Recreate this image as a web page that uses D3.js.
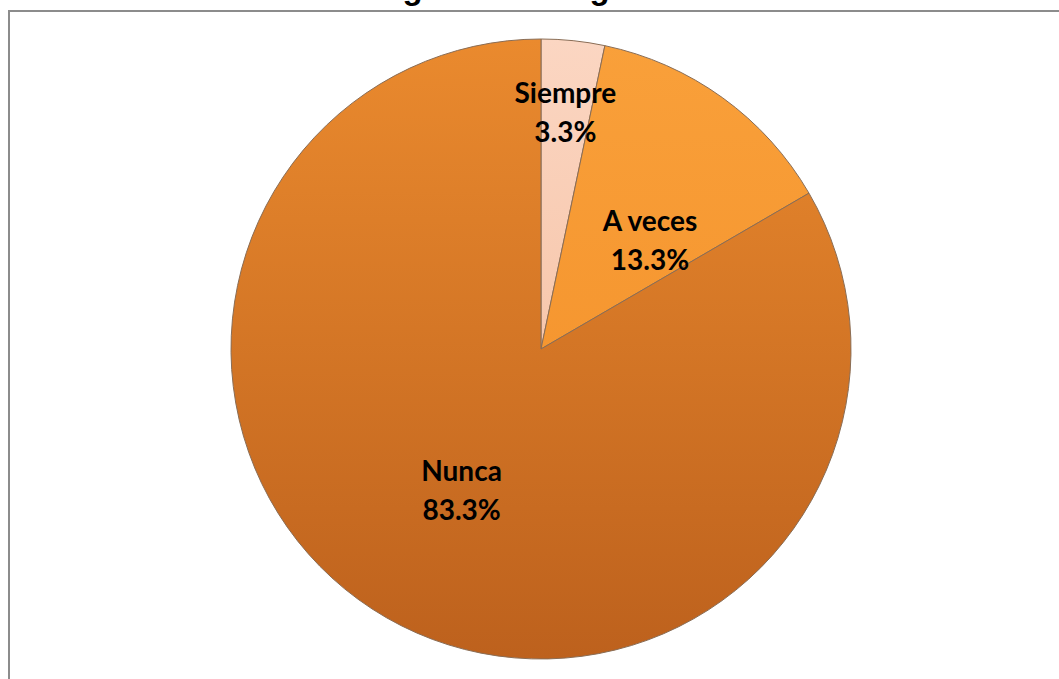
<!DOCTYPE html>
<html>
<head>
<meta charset="utf-8">
<script src="https://cdn.jsdelivr.net/npm/d3@7"></script>
<style>
  body { margin: 0; background: #fff; }
  svg { display: block; }
</style>
</head>
<body>
<svg id="chart"></svg>
<script>
// Pie data
const categories = ["Siempre", "A veces", "Nunca"];
const percents = [3.3, 13.3, 83.3];

const svgWidth = 1059;
const svgHeight = 679;
const cx = 541, cy = 349, radius = 310;

const svg = d3.select("#chart")
    .attr("width", svgWidth)
    .attr("height", svgHeight);

// Title, cut off at the top like the picture
svg.append("text")
    .attr("x", 540)
    .attr("y", -1.5)
    .attr("text-anchor", "middle")
    .style("font-family", "Liberation Sans, Arial, sans-serif")
    .style("font-weight", "bold")
    .style("font-size", "33px")
    .text("Figura 11. Pregunta 8");

// Chart frame
svg.append("rect")
    .attr("x", 9)
    .attr("y", 11)
    .attr("width", 1070)
    .attr("height", 700)
    .attr("fill", "none")
    .attr("stroke", "#8c8c8c")
    .attr("stroke-width", 2);

// Gradients for the slices
const defs = svg.append("defs");
const gradStops = [
    ["#fbd6c2", "#f3b896"],
    ["#f9a03a", "#f28d26"],
    ["#ea8a2e", "#bd611d"]
];
gradStops.forEach((g, i) => {
    const grad = defs.append("linearGradient")
        .attr("id", "grad" + i)
        .attr("gradientUnits", "userSpaceOnUse")
        .attr("x1", 0).attr("y1", -radius)
        .attr("x2", 0).attr("y2", radius);
    grad.append("stop").attr("offset", "0%").attr("stop-color", g[0]);
    grad.append("stop").attr("offset", "100%").attr("stop-color", g[1]);
});

const pie = d3.pie()
    .value(d => d)
    .sort(null);

const arc = d3.arc()
    .innerRadius(0)
    .outerRadius(radius);

const arcs = pie(percents);

const g = svg.append("g")
    .attr("transform", `translate(${cx},${cy})`);

g.selectAll("path")
    .data(arcs)
    .enter()
    .append("path")
    .attr("d", arc)
    .attr("fill", (d, i) => `url(#grad${i})`)
    .attr("stroke", "#8a6d55")
    .attr("stroke-width", 1);

// Label placement (radius as share of pie radius, small angle shift in degrees)
const labelRadius = [0.76, 0.49, 0.53];
const labelAngleShift = [0, 10, -1];

const labels = g.selectAll("g.label")
    .data(arcs)
    .enter()
    .append("g")
    .attr("class", "label")
    .attr("transform", (d, i) => {
        const a = (d.startAngle + d.endAngle) / 2 + labelAngleShift[i] * Math.PI / 180;
        const r = radius * labelRadius[i];
        return `translate(${r * Math.sin(a)},${-r * Math.cos(a)})`;
    });

labels.append("text")
    .attr("text-anchor", "middle")
    .attr("y", -12)
    .style("font-family", "Lato, sans-serif")
    .style("font-weight", "bold")
    .style("font-size", "28px")
    .attr("fill", "#000")
    .text((d, i) => categories[i]);

labels.append("text")
    .attr("text-anchor", "middle")
    .attr("y", 27)
    .style("font-family", "Lato, sans-serif")
    .style("font-weight", "bold")
    .style("font-size", "28px")
    .attr("fill", "#000")
    .text(d => d3.format(".1f")(d.data) + "%");
</script>
</body>
</html>
